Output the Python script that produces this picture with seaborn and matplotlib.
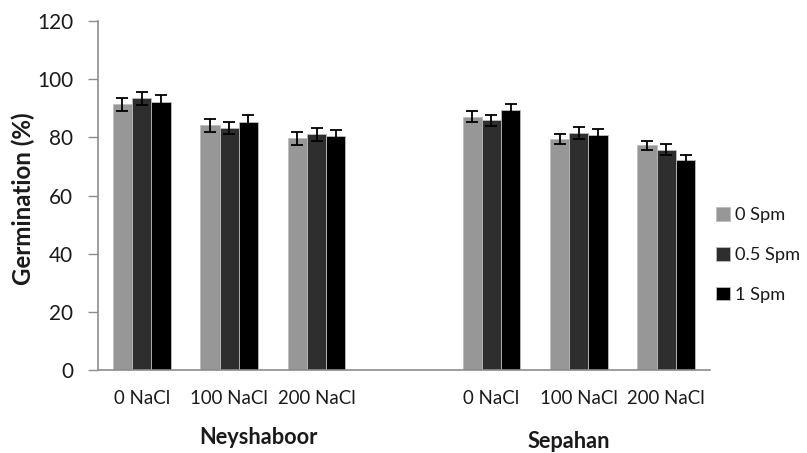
import matplotlib
matplotlib.use("Agg")
import matplotlib.pyplot as plt
import seaborn as sns
import pandas as pd
import numpy as np
from matplotlib.transforms import blended_transform_factory

# ---- data ----
cultivars = ["Neyshaboor", "Sepahan"]
nacl_levels = ["0 NaCl", "100 NaCl", "200 NaCl"]
spm_levels = ["0 Spm", "0.5 Spm", "1 Spm"]

# germination (%) per cultivar, rows = NaCl level, cols = Spm level
neyshaboor_vals = [[91.3, 93.4, 92.2],
                   [84.2, 83.2, 85.2],
                   [79.6, 81.1, 80.3]]
neyshaboor_err = [[2.3, 2.3, 2.2],
                  [2.2, 2.2, 2.6],
                  [2.2, 2.2, 2.2]]
sepahan_vals = [[87.1, 85.9, 89.4],
                [79.5, 81.5, 80.9],
                [77.2, 75.7, 72.3]]
sepahan_err = [[1.8, 1.9, 1.9],
               [1.7, 2.0, 1.8],
               [1.6, 1.9, 1.5]]

colors = ["#979797", "#2e2e2e", "#000000"]

# ---- build table ----
rows = []
for cult, vals, errs in [("Neyshaboor", neyshaboor_vals, neyshaboor_err),
                         ("Sepahan", sepahan_vals, sepahan_err)]:
    for i, lvl in enumerate(nacl_levels):
        for j, spm in enumerate(spm_levels):
            rows.append({"key": f"{cult}|{lvl}", "spm": spm,
                         "val": vals[i][j], "err": errs[i][j]})
df = pd.DataFrame(rows)

order = [f"Neyshaboor|{l}" for l in nacl_levels] + ["gap"] + \
        [f"Sepahan|{l}" for l in nacl_levels]

plt.rcParams["font.family"] = ["Lato", "DejaVu Sans"]
TXT = "#1a1a1a"

W, H = 807, 453
fig = plt.figure(figsize=(W / 100, H / 100), dpi=100)
ax = fig.add_axes([98 / W, 1 - 370 / H, (710 - 98) / W, (370 - 21) / H])

sns.barplot(data=df, x="key", y="val", hue="spm", order=order,
            hue_order=spm_levels, palette=colors, errorbar=None,
            width=0.66, ax=ax, edgecolor="#bdbdbd", linewidth=0.6,
            legend=True)

# error bars
err_lookup = {(r.key, r.spm): r.err for r in df.itertuples()}
for spm, cont in zip(spm_levels, ax.containers):
    for patch in cont:
        h = patch.get_height()
        if np.isnan(h):
            continue
        xc = patch.get_x() + patch.get_width() / 2
        idx = int(round(xc))
        e = err_lookup.get((order[idx], spm))
        if e is None:
            continue
        ax.errorbar(xc, h, yerr=e, fmt="none", ecolor="black",
                    elinewidth=1.3, capsize=4, capthick=1.3)

ax.set_ylim(0, 120)
ax.set_yticks(range(0, 121, 20))
ax.set_xlim(-0.5, len(order) - 0.5)
ax.set_xticks(range(len(order)))
ax.set_xticklabels([k.split("|")[1] if "|" in k else "" for k in order])
ax.set_xlabel("")
for s in ["top", "right"]:
    ax.spines[s].set_visible(False)
for s in ["left", "bottom"]:
    ax.spines[s].set_color("#8c8c8c")
    ax.spines[s].set_linewidth(1.2)

renderer = fig.canvas.get_renderer()


def fit_size(text, target_px, weight="normal", base=12):
    t = fig.text(0, 0, text, fontsize=base, fontweight=weight)
    bb = t.get_window_extent(renderer=renderer)
    t.remove()
    return base * target_px / bb.width


xt_size = fit_size("100 NaCl", 77)
yt_size = fit_size("120", 36)
lg_size = fit_size("0.5 Spm", 65)
yl_size = fit_size("Germination (%)", 172, weight="bold")
gl_size = fit_size("Neyshaboor", 118, weight="bold")

ax.tick_params(axis="x", length=0, pad=xt_size * 0.75 + 4, labelsize=xt_size,
               colors=TXT)
ax.tick_params(axis="y", length=7, width=1, color="#8c8c8c", pad=11,
               labelsize=yt_size, labelcolor=TXT)
ax.set_ylabel("Germination (%)", fontsize=yl_size, fontweight="bold",
              color=TXT)
ax.yaxis.label.set_verticalalignment("center")
ax.yaxis.set_label_coords((23 - 98) / 612, (370 - 199) / 349)

# group labels
trans = blended_transform_factory(ax.transData, ax.transAxes)
ax.text(1.33, -(438 - 370) / 349, "Neyshaboor", transform=trans,
        ha="center", va="center", fontsize=gl_size, fontweight="bold",
        color=TXT)
ax.text(4.89, -(441 - 370) / 349, "Sepahan", transform=trans,
        ha="center", va="center", fontsize=gl_size, fontweight="bold",
        color=TXT)

# legend
handles, labels = ax.get_legend_handles_labels()
fs_px = lg_size * 100 / 72
sq = 14 / fs_px
ax.legend(handles, labels, loc="center left",
          bbox_to_anchor=(716 / W, 1 - 255 / H),
          bbox_transform=fig.transFigure, frameon=False,
          fontsize=lg_size, handlelength=sq, handleheight=sq,
          handletextpad=0.3, labelspacing=(42 - fs_px) / fs_px,
          borderaxespad=0, borderpad=0, labelcolor=TXT)

fig.savefig("out.png", dpi=100)
